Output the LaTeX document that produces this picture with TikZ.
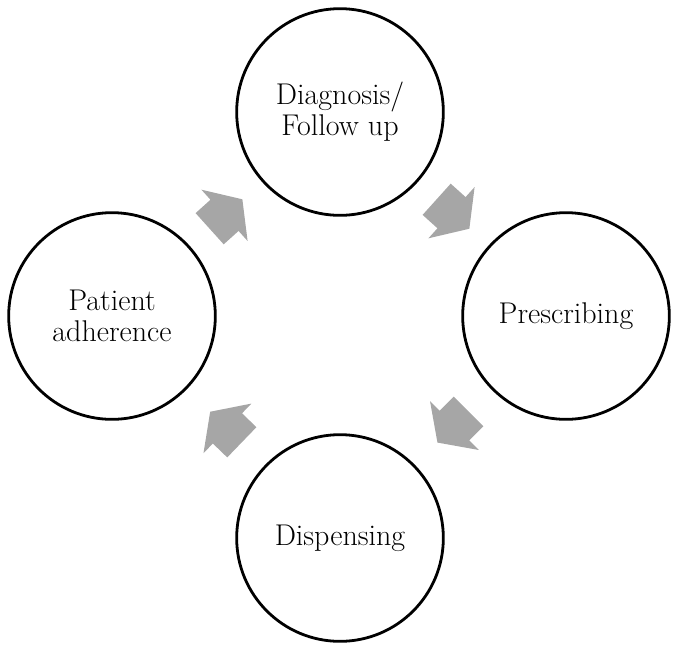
\documentclass[tikz,border=0pt]{standalone}
\usepackage{tikz}
\usetikzlibrary{calc}
\definecolor{arrowgray}{HTML}{A6A6A6}

\begin{document}
\begin{tikzpicture}[x=0.75pt, y=-0.75pt,
  stage/.style={circle, draw=black, line width=2.1pt, minimum size=155pt,
    inner sep=0pt, align=center, font=\fontsize{22.5}{23.5}\selectfont},
  cyclearrow/.pic={
    \fill[arrowgray] (-22,-21) -- (-2,-21) -- (-2,-34.5) -- (22,0)
      -- (-2,34.5) -- (-2,21) -- (-22,21) -- cycle;}]
\useasboundingbox (0,0) rectangle (681,651);
% ---------------- stages ----------------
\node[stage] (diag)   at (340,112) {Diagnosis/\\Follow up};
\node[stage] (presc)  at (566,316) {Prescribing};
\node[stage] (disp)   at (340,538) {Dispensing};
\node[stage] (adher)  at (112,316) {Patient\\adherence};
% ---------------- block arrows between stages ----------------
\pic[rotate=42]    at ($(adher)!0.5!(diag)$)  {cyclearrow};
\pic[rotate=-42]   at ($(diag)!0.5!(presc)$)  {cyclearrow};
\pic[rotate=-135]  at ($(presc)!0.5!(disp)$)  {cyclearrow};
\pic[rotate=136]   at ($(disp)!0.5!(adher)$)  {cyclearrow};
\end{tikzpicture}
\end{document}
